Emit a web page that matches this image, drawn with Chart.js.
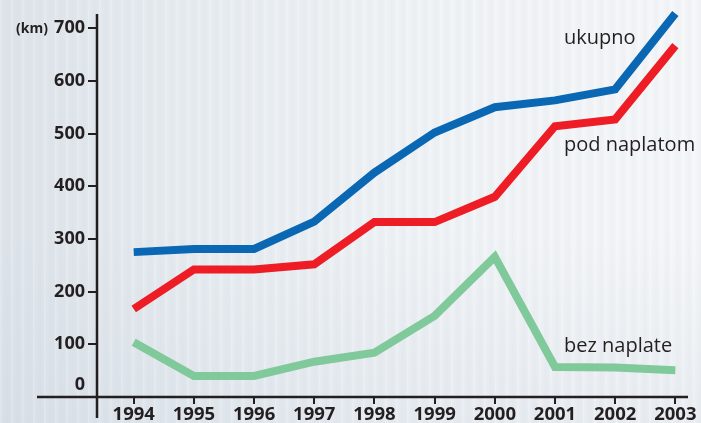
<!DOCTYPE html>
<html>
<head>
<meta charset="utf-8">
<script src="https://cdn.jsdelivr.net/npm/chart.js@4"></script>
<style>
  html, body { margin: 0; padding: 0; }
  body {
    width: 701px; height: 423px; overflow: hidden;
    background:
      repeating-linear-gradient(90deg, rgba(255,255,255,0.25) 0px, rgba(255,255,255,0) 3px, rgba(200,210,220,0.12) 7px, rgba(255,255,255,0) 11px),
      linear-gradient(180deg, rgba(255,255,255,0) 55%, rgba(200,210,222,0.25) 100%),
      linear-gradient(90deg, #dde3e9 0%, #e7ecf0 30%, #eff2f5 60%, #f4f6f8 100%);
  }
  #wrap { position: relative; width: 701px; height: 423px; }
</style>
</head>
<body>
<div id="wrap"><canvas id="chart" width="701" height="423"></canvas></div>
<script>
// godine i duljina autocesta (km)
const years = [1994, 1995, 1996, 1997, 1998, 1999, 2000, 2001, 2002, 2003];
const ukupno = [275, 281, 281, 333, 426, 502, 550, 563, 584, 728];
const podNaplatom = [167, 242, 242, 252, 332, 332, 380, 514, 527, 667];
const bezNaplate = [104, 40, 40, 67, 84, 154, 266, 57, 56, 51];
const yTicks = [0, 100, 200, 300, 400, 500, 600, 700];

const ink = '#231f20';
const toPoints = arr => arr.map((v, i) => ({ x: years[i], y: v }));

// osi koje izlaze izvan područja grafa + natpisi
const extras = {
  id: 'extras',
  afterDraw(chart) {
    const { ctx, chartArea, scales } = chart;
    const x = scales.x, y = scales.y;
    ctx.save();
    ctx.strokeStyle = ink;
    ctx.lineWidth = 2.5;
    ctx.beginPath();
    ctx.moveTo(37, chartArea.bottom);
    ctx.lineTo(chartArea.right, chartArea.bottom);
    ctx.moveTo(chartArea.left, chartArea.top);
    ctx.lineTo(chartArea.left, 418);
    ctx.stroke();

    ctx.fillStyle = ink;
    ctx.font = 'bold 18px "Open Sans"';
    ctx.textAlign = 'right';
    ctx.textBaseline = 'middle';
    ctx.fillText('0', 85, chartArea.bottom - 12);

    ctx.font = 'bold 14px "Open Sans"';
    ctx.fillText('(km)', 48, y.getPixelForValue(700) + 1);

    ctx.font = '20px "Open Sans"';
    ctx.textAlign = 'left';
    const lx = x.getPixelForValue(2001) + 9;
    ctx.fillText('ukupno', lx, y.getPixelForValue(680));
    ctx.fillText('pod naplatom', lx, y.getPixelForValue(478));
    ctx.fillText('bez naplate', lx, y.getPixelForValue(97));
    ctx.restore();
  }
};

const lineDs = (label, data, color) => ({
  label,
  data: toPoints(data),
  borderColor: color,
  borderWidth: 8,
  pointRadius: 0,
  tension: 0,
  borderJoinStyle: 'miter',
  borderCapStyle: 'butt',
  clip: false
});

new Chart(document.getElementById('chart'), {
  type: 'line',
  data: {
    datasets: [
      lineDs('bez naplate', bezNaplate, '#80c99b'),
      lineDs('pod naplatom', podNaplatom, '#ee1c25'),
      lineDs('ukupno', ukupno, '#0a67b3')
    ]
  },
  options: {
    responsive: false,
    animation: false,
    layout: { padding: { top: 14, right: 13, left: 0, bottom: 0 } },
    plugins: { legend: { display: false }, tooltip: { enabled: false } },
    scales: {
      x: {
        type: 'linear',
        min: 1993.39,
        max: 2003.21,
        afterBuildTicks: s => { s.ticks = years.map(v => ({ value: v })); },
        afterFit: s => { s.height = 26; },
        border: { display: false },
        grid: { drawOnChartArea: false, drawTicks: true, tickLength: 7, color: ink, lineWidth: 2 },
        ticks: {
          color: ink,
          padding: 0,
          maxRotation: 0,
          autoSkip: false,
          font: { family: 'Open Sans', weight: 'bold', size: 18.5 },
          callback: v => String(v)
        }
      },
      y: {
        min: 0,
        max: 727,
        afterBuildTicks: s => { s.ticks = yTicks.map(v => ({ value: v })); },
        afterFit: s => { s.width = 97; },
        border: { display: false },
        grid: { drawOnChartArea: false, drawTicks: true, tickLength: 9, color: ink, lineWidth: 2 },
        ticks: {
          color: ink,
          padding: 3,
          font: { family: 'Open Sans', weight: 'bold', size: 18 },
          callback: v => (v === 0 ? '' : String(v))
        }
      }
    }
  },
  plugins: [extras]
});
</script>
</body>
</html>
